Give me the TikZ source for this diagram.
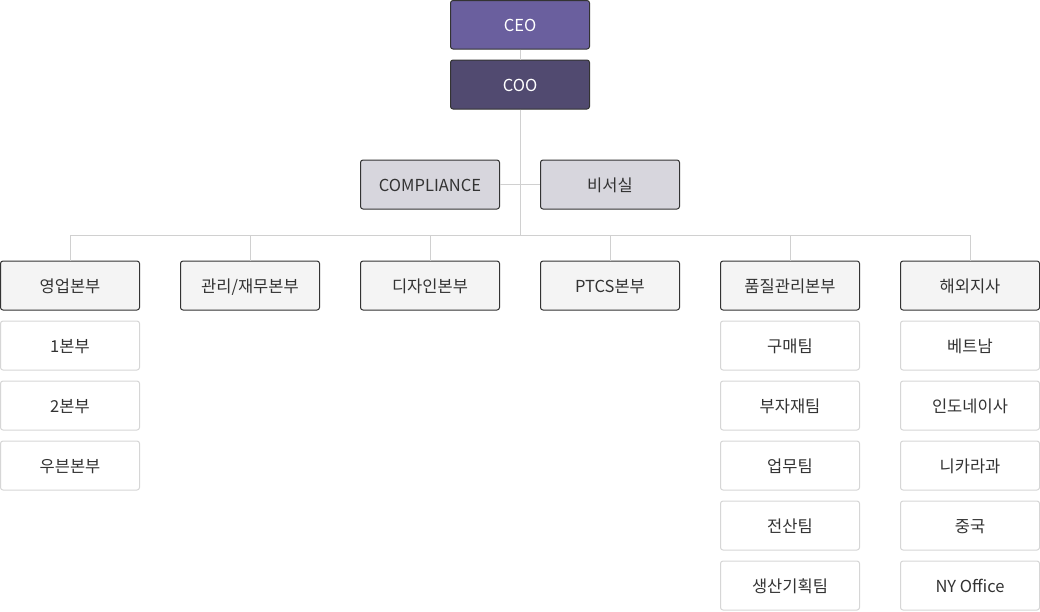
\documentclass[tikz,border=0pt]{standalone}
\usepackage{fontspec}
\setmainfont{Noto Sans CJK KR}
\begin{document}
\begin{tikzpicture}[x=1pt,y=-1pt,
  font=\fontsize{16.5}{19}\selectfont,
  base/.style={rectangle,rounded corners=2.5pt,minimum width=139pt,minimum height=49pt,inner sep=0pt,line width=1pt,text=txt,text height=16pt,text depth=2pt},
  topbox/.style={base,draw=bdark,fill=ceofill,text=white,minimum height=48.5pt},
  coobox/.style={base,draw=bdark,fill=coofill,text=white},
  staffbox/.style={base,draw=bdark,fill=stafffill},
  divbox/.style={base,draw=bdark,fill=divfill},
  subbox/.style={base,draw=blight,fill=white},
  conn/.style={draw=linec,line width=1pt}]
\definecolor{ceofill}{HTML}{6A5F9E}
\definecolor{coofill}{HTML}{514A70}
\definecolor{stafffill}{HTML}{D7D6DD}
\definecolor{divfill}{HTML}{F4F4F4}
\definecolor{bdark}{HTML}{333333}
\definecolor{blight}{HTML}{D6D6D6}
\definecolor{linec}{HTML}{D0D0D0}
\definecolor{txt}{HTML}{333333}
\useasboundingbox (0,0) rectangle (1040,611);

\node[topbox] (ceo) at (520,24.75) {CEO};
\node[coobox] (coo) at (520,84.5) {COO};
\node[staffbox] (comp) at (430,184.5) {COMPLIANCE};
\node[staffbox] (sec) at (610,184.5) {비서실};

\node[divbox] (d1) at (70,285.5) {영업본부};
\node[divbox] (d2) at (250,285.5) {관리/재무본부};
\node[divbox] (d3) at (430,285.5) {디자인본부};
\node[divbox] (d4) at (610,285.5) {PTCS본부};
\node[divbox] (d5) at (790,285.5) {품질관리본부};
\node[divbox] (d6) at (970,285.5) {해외지사};

\node[subbox] (s11) at (70,345.5) {1본부};
\node[subbox] (s12) at (70,405.5) {2본부};
\node[subbox] (s13) at (70,465.5) {우븐본부};

\node[subbox] (s51) at (790,345.5) {구매팀};
\node[subbox] (s52) at (790,405.5) {부자재팀};
\node[subbox] (s53) at (790,465.5) {업무팀};
\node[subbox] (s54) at (790,525.5) {전산팀};
\node[subbox] (s55) at (790,585.5) {생산기획팀};

\node[subbox] (s61) at (970,345.5) {베트남};
\node[subbox] (s62) at (970,405.5) {인도네이사};
\node[subbox] (s63) at (970,465.5) {니카라과};
\node[subbox] (s64) at (970,525.5) {중국};
\node[subbox] (s65) at (970,585.5) {NY Office};

\coordinate (bus) at (520,235);
\coordinate (busL) at (70,235);
\coordinate (busR) at (970,235);

\draw[conn] (ceo.south) -- (coo.north);
\draw[conn] (coo.south) -- (bus);
\draw[conn] (comp.east) -- (sec.west);
\draw[conn] (busL) -- (busR);
\foreach \d in {d1,d2,d3,d4,d5,d6}
  \draw[conn] (\d.north) -- (\d.north |- bus);
\end{tikzpicture}
\end{document}
